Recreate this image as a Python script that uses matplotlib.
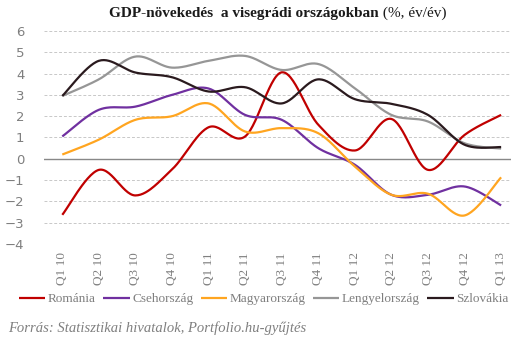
import numpy as np
import matplotlib
matplotlib.use("Agg")
import matplotlib.pyplot as plt

quarters = ["Q1 10", "Q2 10", "Q3 10", "Q4 10", "Q1 11", "Q2 11", "Q3 11",
            "Q4 11", "Q1 12", "Q2 12", "Q3 12", "Q4 12", "Q1 13"]
romania = [-2.63, -0.52, -1.72, -0.5, 1.48, 1.05, 4.06, 1.6, 0.39, 1.87, -0.52, 1.12, 2.06]
cseh = [1.05, 2.3, 2.45, 3.0, 3.3, 2.06, 1.83, 0.5, -0.28, -1.69, -1.69, -1.3, -2.19]
magyar = [0.2, 0.9, 1.83, 2.0, 2.6, 1.28, 1.44, 1.2, -0.36, -1.69, -1.64, -2.66, -0.87]
lengyel = [2.95, 3.73, 4.8, 4.28, 4.6, 4.83, 4.17, 4.45, 3.31, 2.06, 1.75, 0.73, 0.48]
szlovak = [2.95, 4.6, 4.05, 3.83, 3.16, 3.36, 2.6, 3.73, 2.8, 2.58, 2.06, 0.66, 0.55]

series = [("Románia", romania, "#C00000"),
          ("Csehország", cseh, "#7030A0"),
          ("Magyarország", magyar, "#FFA520"),
          ("Lengyelország", lengyel, "#969696"),
          ("Szlovákia", szlovak, "#2A1A1E")]

SERIF = ["Liberation Serif", "DejaVu Serif"]
GRAY = "#7F7F7F"


def smooth(x, y, n=30):
    x = np.asarray(x, float)
    y = np.asarray(y, float)
    px = np.concatenate([[x[0]], x, [x[-1]]])
    py = np.concatenate([[y[0]], y, [y[-1]]])
    xs, ys = [], []
    t = np.linspace(0, 1, n)
    for i in range(1, len(px) - 2):
        p0, p1, p2, p3 = (np.array([px[j], py[j]]) for j in (i - 1, i, i + 1, i + 2))
        c1 = p1 + (p2 - p0) / 6
        c2 = p2 - (p3 - p1) / 6
        b = ((1 - t) ** 3)[:, None] * p1 + (3 * (1 - t) ** 2 * t)[:, None] * c1 \
            + (3 * (1 - t) * t ** 2)[:, None] * c2 + (t ** 3)[:, None] * p2
        xs.append(b[:, 0])
        ys.append(b[:, 1])
    return np.concatenate(xs), np.concatenate(ys)


fig = plt.figure(figsize=(5.31, 3.42), dpi=100)
ax = fig.add_axes([44 / 531, 1 - 244 / 342, (511 - 44) / 531, (244 - 31) / 342])

x = np.arange(len(quarters))
handles = []
for name, vals, col in series:
    sx, sy = smooth(x, vals)
    h, = ax.plot(sx, sy, color=col, lw=1.6, solid_capstyle="butt", label=name)
    handles.append(h)

ax.set_xlim(-0.5, 12.27)
ax.set_ylim(-4, 6)
ax.set_yticks(range(-4, 7))
for v in range(-4, 7):
    if v == 0:
        ax.axhline(0, color="#888888", lw=1.0, zorder=0)
    else:
        ax.axhline(v, color="#C8C8C8", lw=0.7, ls=(0, (3, 2)), zorder=0)
for s in ax.spines.values():
    s.set_visible(False)
ax.tick_params(length=0)
ax.set_xticks(x)
ax.set_xticklabels(quarters, rotation=90, fontsize=9.5, color=GRAY, family=SERIF)
ax.tick_params(axis="x", pad=6)
ax.tick_params(axis="y", pad=14)
for lab in ax.get_yticklabels():
    lab.set_fontsize(9.5)
    lab.set_color(GRAY)
    lab.set_family(["DejaVu Sans"])

leg = fig.legend(handles=handles, loc="center left", bbox_to_anchor=(19 / 531, 1 - 299 / 342),
                 ncol=5, frameon=False, prop={"family": SERIF, "size": 9.5},
                 handlelength=2.0, handletextpad=0.2, columnspacing=0.55, borderaxespad=0,
                 borderpad=0)
for t in leg.get_texts():
    t.set_color(GRAY)

fig.text(8 / 531, 1 - 328 / 342, "Forrás: Statisztikai hivatalok, Portfolio.hu-gyűjtés",
         family=SERIF, style="italic", color=GRAY, fontsize=10.5, va="center", ha="left")

# title in two parts
r = fig.canvas.get_renderer()
t1 = fig.text(0, 1 - 13 / 342, "GDP-növekedés  a visegrádi országokban", family=SERIF,
              weight="bold", fontsize=11, color="#1A1A1A", va="center", ha="left")
t2 = fig.text(0, 1 - 13 / 342, " (%, év/év)", family=SERIF, fontsize=11,
              color="#1A1A1A", va="center", ha="left")
w1 = t1.get_window_extent(r).width
w2 = t2.get_window_extent(r).width
start = 278 - (w1 + w2) / 2
t1.set_x(start / 531)
t2.set_x((start + w1) / 531)

fig.savefig("out.png", dpi=100)
